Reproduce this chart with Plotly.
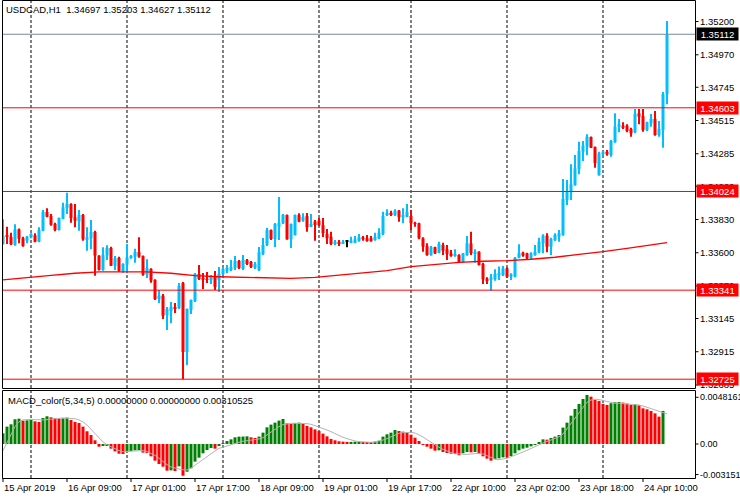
import plotly.graph_objects as go

# ---------------- data ----------------
bar_index = list(range(167))

opens = [1.33661,1.33716,1.33709,1.33654,1.33762,1.33700,1.33683,1.33707,1.33721,1.33676,
1.33753,1.33882,1.33854,1.33799,1.33757,1.33835,1.33910,1.33937,1.33845,1.33818,
1.33861,1.33695,1.33702,1.33744,1.33580,1.33481,1.33580,1.33633,1.33510,1.33564,
1.33474,1.33517,1.33564,1.33573,1.33605,1.33577,1.33448,1.33488,1.33412,1.33280,
1.33303,1.33169,1.33197,1.33225,1.33218,1.33391,1.32913,1.33204,1.33266,1.33453,
1.33425,1.33418,1.33412,1.33439,1.33412,1.33453,1.33474,1.33481,1.33495,1.33543,
1.33488,1.33550,1.33536,1.33495,1.33481,1.33591,1.33654,1.33757,1.33695,1.33780,
1.33804,1.33861,1.33693,1.33723,1.33861,1.33822,1.33854,1.33780,1.33815,1.33822,
1.33792,1.33730,1.33711,1.33661,1.33676,1.33665,1.33676,1.33669,1.33669,1.33683,
1.33707,1.33700,1.33700,1.33688,1.33700,1.33730,1.33861,1.33877,1.33861,1.33891,
1.33845,1.33849,1.33854,1.33804,1.33804,1.33700,1.33647,1.33584,1.33638,1.33600,
1.33654,1.33624,1.33596,1.33577,1.33584,1.33534,1.33584,1.33665,1.33596,1.33607,
1.33522,1.33420,1.33412,1.33416,1.33446,1.33446,1.33492,1.33434,1.33434,1.33566,
1.33600,1.33596,1.33562,1.33584,1.33603,1.33665,1.33718,1.33642,1.33688,1.33711,
1.33723,1.33965,1.34018,1.34069,1.34180,1.34299,1.34334,1.34401,1.34332,1.34138,
1.34288,1.34299,1.34276,1.34364,1.34472,1.34479,1.34479,1.34456,1.34434,1.34565,
1.34546,1.34450,1.34496,1.34526,1.34415,1.34450,1.34697]

highs = [1.33831,1.33780,1.33739,1.33797,1.33768,1.33711,1.33716,1.33735,1.33735,1.33776,
1.33896,1.33908,1.33868,1.33808,1.33844,1.33946,1.34016,1.33942,1.33937,1.33896,
1.33868,1.33776,1.33827,1.33753,1.33583,1.33638,1.33652,1.33642,1.33577,1.33573,
1.33527,1.33661,1.33584,1.33628,1.33707,1.33581,1.33555,1.33492,1.33416,1.33342,
1.33315,1.33225,1.33259,1.33252,1.33391,1.33398,1.33214,1.33276,1.33460,1.33515,
1.33460,1.33467,1.33446,1.33474,1.33501,1.33501,1.33515,1.33550,1.33577,1.33550,
1.33584,1.33557,1.33543,1.33536,1.33640,1.33702,1.33771,1.33761,1.33806,1.33986,
1.33868,1.33865,1.33802,1.33865,1.33873,1.33873,1.33875,1.33868,1.33827,1.33840,
1.33840,1.33764,1.33746,1.33688,1.33688,1.33688,1.33688,1.33711,1.33716,1.33730,
1.33716,1.33723,1.33716,1.33739,1.33769,1.33884,1.33901,1.33891,1.33901,1.33896,
1.33908,1.33937,1.33896,1.33815,1.33808,1.33707,1.33665,1.33647,1.33642,1.33676,
1.33670,1.33654,1.33619,1.33624,1.33589,1.33598,1.33716,1.33746,1.33624,1.33611,
1.33531,1.33430,1.33453,1.33485,1.33504,1.33508,1.33499,1.33458,1.33571,1.33658,
1.33607,1.33600,1.33603,1.33654,1.33704,1.33728,1.33735,1.33704,1.33735,1.33757,
1.34110,1.34104,1.34212,1.34276,1.34368,1.34373,1.34420,1.34404,1.34335,1.34299,
1.34304,1.34311,1.34380,1.34565,1.34526,1.34503,1.34489,1.34465,1.34595,1.34595,
1.34595,1.34507,1.34560,1.34581,1.34512,1.34712,1.35203]

lows = [1.33657,1.33661,1.33654,1.33649,1.33665,1.33642,1.33665,1.33700,1.33672,1.33672,
1.33748,1.33845,1.33787,1.33748,1.33754,1.33831,1.33868,1.33808,1.33776,1.33753,
1.33683,1.33614,1.33624,1.33440,1.33477,1.33475,1.33550,1.33508,1.33481,1.33469,
1.33462,1.33458,1.33559,1.33531,1.33566,1.33441,1.33425,1.33393,1.33273,1.33252,
1.33141,1.33066,1.33114,1.33183,1.33211,1.32725,1.32823,1.33176,1.33259,1.33412,
1.33349,1.33391,1.33384,1.33342,1.33328,1.33446,1.33460,1.33474,1.33481,1.33488,
1.33481,1.33515,1.33495,1.33488,1.33474,1.33584,1.33647,1.33688,1.33640,1.33688,
1.33799,1.33690,1.33633,1.33719,1.33811,1.33815,1.33746,1.33778,1.33683,1.33785,
1.33709,1.33661,1.33654,1.33652,1.33647,1.33661,1.33638,1.33665,1.33665,1.33676,
1.33683,1.33676,1.33676,1.33683,1.33693,1.33723,1.33854,1.33854,1.33854,1.33815,
1.33804,1.33845,1.33757,1.33780,1.33693,1.33607,1.33580,1.33580,1.33591,1.33596,
1.33584,1.33550,1.33573,1.33573,1.33531,1.33531,1.33580,1.33584,1.33531,1.33512,
1.33384,1.33384,1.33337,1.33407,1.33412,1.33439,1.33425,1.33412,1.33430,1.33562,
1.33573,1.33557,1.33557,1.33580,1.33596,1.33596,1.33603,1.33584,1.33681,1.33676,
1.33718,1.33930,1.33965,1.34064,1.34143,1.34235,1.34276,1.34325,1.34189,1.34133,
1.34276,1.34272,1.34265,1.34362,1.34434,1.34456,1.34434,1.34403,1.34427,1.34489,
1.34438,1.34443,1.34472,1.34410,1.34403,1.34327,1.34627]

closes = [1.33716,1.33709,1.33658,1.33762,1.33697,1.33647,1.33711,1.33730,1.33676,1.33757,
1.33882,1.33849,1.33794,1.33757,1.33840,1.33914,1.33937,1.33840,1.33822,1.33861,
1.33693,1.33707,1.33744,1.33580,1.33481,1.33584,1.33633,1.33510,1.33562,1.33474,
1.33522,1.33568,1.33577,1.33605,1.33573,1.33448,1.33495,1.33407,1.33280,1.33303,
1.33164,1.33211,1.33225,1.33216,1.33370,1.32913,1.33211,1.33273,1.33453,1.33418,
1.33412,1.33412,1.33432,1.33363,1.33453,1.33488,1.33495,1.33501,1.33543,1.33495,
1.33550,1.33522,1.33501,1.33522,1.33605,1.33654,1.33757,1.33695,1.33799,1.33808,
1.33861,1.33693,1.33799,1.33861,1.33815,1.33849,1.33776,1.33799,1.33792,1.33792,
1.33735,1.33700,1.33661,1.33676,1.33665,1.33676,1.33676,1.33683,1.33693,1.33707,
1.33693,1.33688,1.33688,1.33711,1.33739,1.33854,1.33877,1.33868,1.33891,1.33845,
1.33861,1.33884,1.33804,1.33799,1.33700,1.33642,1.33584,1.33638,1.33596,1.33661,
1.33614,1.33591,1.33577,1.33591,1.33534,1.33596,1.33665,1.33596,1.33607,1.33515,
1.33416,1.33407,1.33430,1.33453,1.33462,1.33492,1.33434,1.33451,1.33566,1.33596,
1.33580,1.33562,1.33596,1.33607,1.33676,1.33718,1.33642,1.33695,1.33723,1.33735,
1.33972,1.34022,1.34074,1.34184,1.34304,1.34341,1.34403,1.34327,1.34221,1.34288,
1.34299,1.34281,1.34373,1.34472,1.34489,1.34465,1.34443,1.34427,1.34560,1.34541,
1.34450,1.34503,1.34526,1.34415,1.34456,1.34697,1.35112]

macd_hist = [0.00110,0.00179,0.00203,0.00255,0.00261,0.00241,0.00244,0.00248,0.00234,0.00227,
0.00268,0.00286,0.00275,0.00265,0.00261,0.00265,0.00272,0.00248,0.00227,0.00217,
0.00179,0.00131,0.00093,0.00038,-0.00028,-0.00021,-0.00017,-0.00048,-0.00076,-0.00100,
-0.00103,-0.00079,-0.00072,-0.00065,-0.00062,-0.00089,-0.00093,-0.00127,-0.00172,-0.00206,
-0.00234,-0.00275,-0.00272,-0.00279,-0.00230,-0.00327,-0.00286,-0.00251,-0.00182,-0.00141,
-0.00096,-0.00062,-0.00041,-0.00048,-0.00021,0.00007,0.00031,0.00048,0.00069,0.00076,
0.00077,0.00079,0.00069,0.00062,0.00076,0.00117,0.00172,0.00200,0.00220,0.00241,
0.00258,0.00213,0.00206,0.00217,0.00220,0.00206,0.00186,0.00172,0.00151,0.00134,
0.00107,0.00079,0.00052,0.00038,0.00028,0.00024,0.00021,0.00022,0.00024,0.00026,
0.00021,0.00017,0.00014,0.00024,0.00034,0.00076,0.00100,0.00117,0.00144,0.00134,
0.00127,0.00117,0.00096,0.00065,0.00031,-0.00003,-0.00028,-0.00048,-0.00069,-0.00065,
-0.00083,-0.00093,-0.00100,-0.00103,-0.00117,-0.00096,-0.00083,-0.00086,-0.00083,-0.00100,
-0.00127,-0.00151,-0.00172,-0.00158,-0.00148,-0.00138,-0.00139,-0.00124,-0.00096,-0.00065,
-0.00048,-0.00038,-0.00024,-0.00010,0.00017,0.00048,0.00045,0.00062,0.00076,0.00093,
0.00169,0.00220,0.00292,0.00361,0.00413,0.00464,0.00506,0.00488,0.00454,0.00444,
0.00413,0.00402,0.00420,0.00430,0.00433,0.00427,0.00416,0.00402,0.00409,0.00399,
0.00368,0.00358,0.00341,0.00316,0.00282,0.00341,None]

macd_signal = [-0.00069,0.00017,0.00103,0.00179,0.00230,0.00248,0.00251,0.00255,0.00251,0.00248,
0.00248,0.00251,0.00258,0.00261,0.00265,0.00268,0.00268,0.00265,0.00261,0.00248,
0.00227,0.00196,0.00151,0.00103,0.00058,0.00021,-0.00007,-0.00028,-0.00052,-0.00069,
-0.00079,-0.00079,-0.00076,-0.00072,-0.00069,-0.00069,-0.00079,-0.00096,-0.00117,-0.00148,
-0.00182,-0.00213,-0.00237,-0.00251,-0.00258,-0.00265,-0.00268,-0.00248,-0.00217,-0.00189,
-0.00158,-0.00131,-0.00100,-0.00072,-0.00045,-0.00031,-0.00017,-0.00003,0.00007,0.00017,
0.00028,0.00034,0.00038,0.00041,0.00052,0.00065,0.00093,0.00124,0.00155,0.00179,
0.00200,0.00210,0.00213,0.00213,0.00213,0.00213,0.00210,0.00203,0.00189,0.00179,
0.00162,0.00144,0.00127,0.00107,0.00086,0.00069,0.00055,0.00041,0.00031,0.00024,
0.00021,0.00017,0.00017,0.00021,0.00028,0.00041,0.00055,0.00076,0.00096,0.00110,
0.00117,0.00120,0.00120,0.00114,0.00096,0.00072,0.00045,0.00017,-0.00010,-0.00034,
-0.00055,-0.00076,-0.00089,-0.00100,-0.00103,-0.00107,-0.00107,-0.00103,-0.00100,-0.00096,
-0.00103,-0.00120,-0.00141,-0.00155,-0.00162,-0.00158,-0.00148,-0.00131,-0.00117,-0.00100,
-0.00083,-0.00065,-0.00045,-0.00028,-0.00010,0.00010,0.00028,0.00041,0.00058,0.00076,
0.00103,0.00155,0.00206,0.00261,0.00320,0.00378,0.00430,0.00454,0.00461,0.00458,
0.00447,0.00437,0.00427,0.00420,0.00420,0.00416,0.00416,0.00413,0.00409,0.00402,
0.00392,0.00378,0.00365,0.00351,0.00334,0.00320,0.00310525]

ma_index = [0,6,12,18,24,30,36,42,48,54,60,66,72,78,84,90,96,102,108,114,120,126,132,138,144,150,156,162,166]
ma_values = [1.33412,1.33430,1.33444,1.33458,1.33467,1.33467,1.33467,1.33458,1.33441,1.33434,
1.33430,1.33423,1.33423,1.33430,1.33444,1.33458,1.33476,1.33504,1.33520,1.33534,
1.33541,1.33545,1.33555,1.33569,1.33589,1.33607,1.33631,1.33654,1.33670]

tick_index = [0,16,32,48,64,80,96,112,128,144,160]
tick_labels = ["15 Apr 2019","16 Apr 09:00","17 Apr 01:00","17 Apr 17:00","18 Apr 09:00",
               "19 Apr 01:00","19 Apr 17:00","22 Apr 10:00","23 Apr 02:00","23 Apr 18:00","24 Apr 10:00"]
separator_index = [7,31,55,79,102,126,150]

price_ticks = [1.35200,1.34970,1.34745,1.34515,1.34285,1.34060,1.33830,1.33600,1.33370,1.33145,1.32915,1.32685]
level_lines = [1.34603,1.34024,1.33341,1.32725]
bid_price = 1.35112
macd_ticks = [0.0048161, 0.0, -0.003151]
macd_tick_text = ["0.0048161", "0.00", "-0.003151"]

main_title = "USDCAD,H1  1.34697 1.35203 1.34627 1.35112"
macd_title = "MACD_color(5,34,5) 0.00000000 0.00000000 0.00310525"

# ---------------- geometry / style ----------------
W, H = 740, 500
ML, MR, MT, MB = 2, 45, 1, 22
PW, PH = W - ML - MR, H - MT - MB
def py(p):  # pixel row -> paper fraction
    return (H - MB - p) / PH
def px(p):
    return (p - ML) / PW

FONT = "Liberation Sans"
FS = 9.5
BULL, BEAR, DOJI = "#00BFFF", "#FF0000", "#000000"

candle_colors = [BULL if c > o else (BEAR if c < o else DOJI) for o, c in zip(opens, closes)]
body_base = [min(o, c) for o, c in zip(opens, closes)]
body_h = [max(abs(c - o), 0.00006) for o, c in zip(opens, closes)]
wick_h = [h - l for h, l in zip(highs, lows)]

hist_colors = []
prev = None
for v in macd_hist:
    if v is None:
        hist_colors.append("rgba(0,0,0,0)")
        continue
    hist_colors.append("#008000" if (prev is None or v >= prev) else "#FF0000")
    prev = v

main_dom = [py(388), 1.0]
macd_dom = [0.0, py(390)]
y0 = 1.35349 - 0.0000692 * 388
y1 = 1.35349 - 0.0000692 * 1
xr = [-0.25, -0.25 + PW / 4.0]

fig = go.Figure()
fig.add_trace(go.Bar(x=bar_index, y=wick_h, base=lows, width=0.25,
                     marker=dict(color=candle_colors, line=dict(width=0)),
                     xaxis="x", yaxis="y", hoverinfo="skip", showlegend=False))
fig.add_trace(go.Bar(x=bar_index, y=body_h, base=body_base, width=0.75,
                     marker=dict(color=candle_colors, line=dict(width=0)),
                     xaxis="x", yaxis="y", hoverinfo="skip", showlegend=False))
fig.add_trace(go.Scatter(x=ma_index, y=ma_values, mode="lines",
                         line=dict(color="#FF0000", width=1.3),
                         xaxis="x", yaxis="y", hoverinfo="skip", showlegend=False))
for lv in level_lines:
    fig.add_trace(go.Scatter(x=xr, y=[lv, lv], mode="lines",
                             line=dict(color="#FF0000", width=1),
                             xaxis="x", yaxis="y", hoverinfo="skip", showlegend=False))
fig.add_trace(go.Scatter(x=xr, y=[bid_price, bid_price], mode="lines",
                         line=dict(color="#778899", width=1),
                         xaxis="x", yaxis="y", hoverinfo="skip", showlegend=False))
fig.add_trace(go.Bar(x=bar_index, y=macd_hist, width=0.75,
                     marker=dict(color=hist_colors, line=dict(width=0)),
                     xaxis="x2", yaxis="y2", hoverinfo="skip", showlegend=False))
fig.add_trace(go.Scatter(x=bar_index, y=macd_signal, mode="lines",
                         line=dict(color="#B4B4B4", width=1),
                         xaxis="x2", yaxis="y2", hoverinfo="skip", showlegend=False))

ax_plain = dict(showgrid=False, zeroline=False, showline=False, ticks="", showticklabels=False)
fig.update_layout(
    width=W, height=H, margin=dict(l=ML, r=MR, t=MT, b=MB),
    paper_bgcolor="white", plot_bgcolor="white", barmode="overlay",
    font=dict(family=FONT, size=FS, color="black"),
    xaxis=dict(domain=[0, 1], anchor="y", range=xr, **ax_plain),
    yaxis=dict(domain=main_dom, anchor="x", range=[y0, y1], side="right", **ax_plain),
    xaxis2=dict(domain=[0, 1], anchor="y2", matches="x", range=xr, **ax_plain),
    yaxis2=dict(domain=macd_dom, anchor="x2", side="right",
                range=[(444 - 478) * 0.0001031, (444 - 390) * 0.0001031], **ax_plain),
)

shapes = []
for s in separator_index:
    shapes.append(dict(type="line", xref="x", yref="paper", x0=s, x1=s, y0=0, y1=1,
                       line=dict(color="black", width=1, dash="3px,2px"), layer="below"))
for top, bot in [(0.5, 388.5), (390.5, 478.5)]:
    shapes.append(dict(type="rect", xref="paper", yref="paper",
                       x0=px(2.5), x1=px(695.5), y0=py(bot), y1=py(top),
                       line=dict(color="black", width=1), fillcolor="rgba(0,0,0,0)", layer="above"))
for v in price_ticks:
    shapes.append(dict(type="line", xref="paper", yref="y", x0=px(695.5), x1=px(698.5), y0=v, y1=v,
                       line=dict(color="black", width=1)))
for v in macd_ticks:
    shapes.append(dict(type="line", xref="paper", yref="y2", x0=px(695.5), x1=px(698.5), y0=v, y1=v,
                       line=dict(color="black", width=1)))
for ti in tick_index:
    shapes.append(dict(type="line", xref="x2", yref="paper", x0=ti, x1=ti, y0=py(478.5), y1=py(482),
                       line=dict(color="black", width=1)))
fig.update_layout(shapes=shapes)

ann = []
ann.append(dict(text=main_title, xref="paper", yref="paper", x=px(4), y=py(10),
                xanchor="left", yanchor="middle", showarrow=False,
                font=dict(family=FONT, size=FS, color="black")))
ann.append(dict(text=macd_title, xref="paper", yref="paper", x=px(6), y=py(400),
                xanchor="left", yanchor="middle", showarrow=False,
                font=dict(family=FONT, size=FS, color="black")))
for ti, tl in zip(tick_index, tick_labels):
    ann.append(dict(text=tl, xref="x2", yref="paper", x=ti, y=py(488),
                    xanchor="left", yanchor="middle", showarrow=False, xshift=-1,
                    font=dict(family=FONT, size=FS, color="black")))
for v in price_ticks:
    ann.append(dict(text=f"{v:.5f}", xref="paper", yref="y", x=px(699), y=v,
                    xanchor="left", yanchor="middle", showarrow=False, borderpad=0,
                    font=dict(family=FONT, size=FS, color="black")))
for v, t in zip(macd_ticks, macd_tick_text):
    ann.append(dict(text=t, xref="paper", yref="y2", x=px(699), y=v,
                    xanchor="left", yanchor="middle", showarrow=False, borderpad=0,
                    font=dict(family=FONT, size=9, color="black")))
for lv in level_lines:
    ann.append(dict(text=f"{lv:.5f}", xref="paper", yref="y", x=px(696), y=lv,
                    xanchor="left", yanchor="middle", showarrow=False,
                    bgcolor="#FF0000", width=39, height=10, borderpad=1,
                    font=dict(family=FONT, size=FS, color="white")))
ann.append(dict(text=f"{bid_price:.5f}", xref="paper", yref="y", x=px(696), y=bid_price,
                xanchor="left", yanchor="middle", showarrow=False,
                bgcolor="#000000", width=39, height=10, borderpad=1,
                font=dict(family=FONT, size=FS, color="white")))
fig.update_layout(annotations=ann)

fig.write_html("out.html", config={"displayModeBar": False})
